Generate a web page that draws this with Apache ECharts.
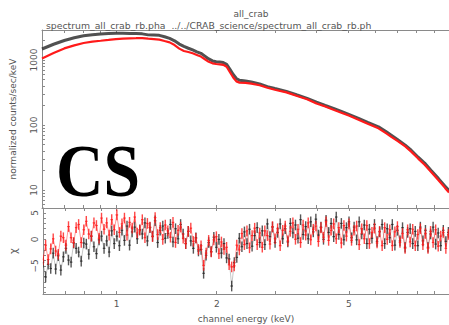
<!DOCTYPE html>
<html><head><meta charset="utf-8">
<script src="https://cdn.jsdelivr.net/npm/echarts@6/dist/echarts.min.js"></script>
<style>html,body{margin:0;padding:0;background:#fff}#c{width:449px;height:325px}</style>
</head><body><div id="c"></div>
<script>
// ---- spectrum (top panel), normalized counts/sec/keV ----
const specEnergy = [0.60,0.65,0.70,0.75,0.80,0.85,0.90,0.95,1.00,1.05,1.10,1.15,1.20,1.25,1.30,1.35,1.40,1.45,1.50,1.55,1.60,1.65,1.70,1.75,1.80,1.85,1.90,1.95,2.00,2.05,2.10,2.15,2.20,2.25,2.30,2.35,2.45,2.55,2.70,2.85,3.00,3.25,3.50,3.75,4.00,4.25,4.50,4.75,5.00,5.35,5.70,6.14,6.50,6.71,7.00,7.39,7.70,8.08,8.45,8.84,9.30,9.73,10.0];
const specBlack = [1480,1750,2000,2200,2370,2460,2520,2560,2580,2590,2570,2560,2530,2440,2420,2400,2280,2150,1980,1760,1620,1520,1430,1340,1270,1150,1040,970,940,930,915,860,720,600,520,490,475,460,430,390,365,330,290,258,225,200,180,162,146,127,110,94,78,70,60,49,41,32,26,20,15,11.5,9.8];
const specRed = [1060,1280,1510,1680,1830,1920,1980,2040,2100,2140,2160,2170,2180,2130,2100,2060,1960,1870,1700,1500,1380,1330,1270,1200,1130,1030,940,890,870,860,845,790,650,540,470,450,445,435,410,375,350,318,280,250,215,193,172,155,140,121,105,89,74,66,57,47,39,30.5,24.5,19,14.2,10.8,9.2];

// ---- residuals (bottom panel), chi ----
const resEnergy = [0.600,0.611,0.622,0.633,0.644,0.655,0.667,0.679,0.691,0.703,
0.716,0.729,0.742,0.755,0.768,0.782,0.796,0.810,0.824,0.839,
0.854,0.869,0.885,0.900,0.916,0.933,0.949,0.966,0.983,1.001,
1.019,1.037,1.055,1.074,1.093,1.113,1.133,1.153,1.173,1.194,
1.216,1.237,1.259,1.282,1.305,1.328,1.352,1.376,1.400,1.425,
1.451,1.477,1.503,1.530,1.557,1.585,1.613,1.642,1.671,1.701,
1.731,1.762,1.794,1.826,1.858,1.891,1.925,1.960,1.995,2.030,
2.066,2.103,2.141,2.179,2.218,2.258,2.298,2.339,2.381,2.423,
2.466,2.510,2.555,2.601,2.647,2.694,2.742,2.791,2.841,2.892,
2.943,2.996,3.049,3.104,3.159,3.215,3.273,3.331,3.390,3.451,
3.512,3.575,3.639,3.704,3.770,3.837,3.905,3.975,4.046,4.118,
4.191,4.266,4.342,4.419,4.498,4.578,4.660,4.743,4.827,4.913,
5.001,5.090,5.181,5.273,5.367,5.463,5.560,5.659,5.760,5.863,
5.967,6.074,6.182,6.292,6.404,6.518,6.634,6.752,6.873,6.995,
7.120,7.247,7.376,7.507,7.641,7.777,7.916,8.057,8.200,8.346,
8.495,8.646,8.800,8.957,9.117,9.279,9.444,9.613,9.784,9.958];
const resBlack = [-4.3,-7.1,-4.7,-5.5,-2.6,-5.6,-3.1,-5.8,-3.3,-1.7,
-3.9,-4.3,-0.7,-1.7,-2.4,-4.1,-0.7,-0.9,-2.8,0.6,
-1.4,-2.7,-0.1,0.6,-1.7,-0.3,-2.4,1.6,-0.8,0.6,
-1.2,1.7,-0.2,2.5,-1.1,1.4,2.3,0.1,1.8,1.0,
3.1,-0.3,2.2,0.6,3.5,-0.6,1.7,2.5,0.2,1.1,
2.8,-0.5,2.0,0.1,2.8,1.0,-0.8,1.5,-0.3,-1.7,
0.3,-2.2,-1.9,-6.4,-3.0,-0.6,-2.3,0.4,-1.5,0.0,
-2.6,-0.8,-3.5,-3.7,-8.8,-4.4,-3.4,0.2,-1.4,1.4,
-0.8,1.9,-1.3,0.7,2.2,-0.6,1.6,-1.0,2.9,0.5,
2.3,-0.6,1.3,2.9,0.1,2.0,-0.5,3.0,1.2,2.7,
0.2,3.7,0.9,2.4,0.1,3.3,1.4,3.8,0.8,2.3,
0.0,3.6,1.3,3.0,0.5,4.2,0.9,3.0,-0.1,2.2,
3.3,0.3,2.3,-0.1,3.3,1.0,2.7,-0.8,1.9,0.2,
2.8,-0.4,1.4,2.8,-0.8,2.0,0.3,2.8,-1.1,1.7,
-0.3,2.2,-1.5,1.3,2.0,-0.8,1.5,-1.2,2.3,-0.3,
1.7,-1.5,1.0,2.3,-0.9,1.2,-1.2,1.7,-0.4,1.3];
const resRed = [-3.9,-1.1,-3.8,-1.8,0.1,-2.2,-2.8,0.6,0.3,-1.1,
2.4,0.3,-0.6,2.2,2.8,-0.6,1.8,3.4,1.0,0.6,
3.1,2.6,0.2,4.0,1.9,3.1,0.8,3.7,1.8,4.6,
1.3,2.9,4.0,0.8,3.2,2.1,4.2,1.2,1.7,3.7,
0.3,3.0,2.3,0.5,4.1,0.9,2.2,0.0,2.7,1.6,
0.4,3.2,-0.6,1.7,2.3,0.2,-0.8,1.5,2.1,-0.4,
0.2,-1.9,-1.2,-4.9,-2.6,-0.2,-2.4,-0.1,0.5,-2.7,
-0.5,-1.9,-1.5,-4.8,-5.2,-5.0,-1.1,-2.0,1.1,-1.0,
1.6,-1.6,0.7,2.1,-1.0,1.2,-1.5,1.6,0.7,-0.9,
2.4,0.1,2.0,-1.2,1.7,2.5,-0.3,1.5,3.1,0.0,
1.9,-0.6,2.7,0.8,3.1,-0.1,1.9,2.5,-0.4,2.2,
0.4,3.3,-0.2,1.7,2.9,0.1,2.2,-0.7,2.6,0.6,
2.9,-0.2,1.7,2.5,-1.0,2.0,0.1,2.6,-0.8,1.3,
2.1,-0.7,1.5,-1.2,2.2,0.0,1.8,-1.2,1.4,2.4,
-0.6,1.1,-1.7,1.8,-0.5,1.9,-1.2,0.9,2.0,-1.0,
1.1,-1.7,1.5,-0.6,1.8,-1.3,0.6,1.3,-1.7,0.9];

// ---- ticks ----
const xTickLabels = [1, 2, 5];
const xTicks = [0.6,0.7,0.8,0.9,1,2,3,4,5,6,7,8,9,10];
const yTopLabels = [10, 100, 1000];
const yTopTicks = [6,7,8,9,10,20,30,40,50,60,70,80,90,100,200,300,400,500,600,700,800,900,1000,2000];
const yBotLabels = [-5, 0, 5];
const yBotTicks = [-10,-9,-8,-7,-6,-5,-4,-3,-2,-1,0,1,2,3,4,5];

const FONT = 'DejaVu Sans';
const TXT = '#555';
const AX = '#8a8a8a';

function binData(E, V) {
  return E.map((e, i) => {
    const lo = i > 0 ? Math.sqrt(E[i-1]*e) : e*e/Math.sqrt(e*E[i+1]);
    const hi = i < E.length-1 ? Math.sqrt(e*E[i+1]) : e*e/Math.sqrt(E[i-1]*e);
    return [e, V[i], lo, hi];
  });
}
function crossRenderer(color) {
  return function (params, api) {
    const e = api.value(0), v = api.value(1), lo = api.value(2), hi = api.value(3);
    const c = api.coord([e, v]);
    const t = api.coord([e, v + 1]);
    const b = api.coord([e, v - 1]);
    const l = api.coord([lo, v]);
    const r = api.coord([hi, v]);
    return { type: 'group', children: [
      { type: 'line', shape: { x1: l[0], y1: c[1], x2: r[0], y2: c[1] }, style: { stroke: color, lineWidth: 1.2 } },
      { type: 'line', shape: { x1: c[0], y1: t[1], x2: c[0], y2: b[1] }, style: { stroke: color, lineWidth: 1.4 } }
    ]};
  };
}
function xAx(grid, pos, showLabels) {
  return {
    type: 'log', logBase: 10, gridIndex: grid, position: pos, min: 0.6, max: 10,
    axisLine: { show: true, onZero: false, lineStyle: { color: AX, width: 1 } },
    axisTick: { show: true, inside: true, length: 3, customValues: xTicks, lineStyle: { color: AX } },
    axisLabel: { show: showLabels, customValues: xTickLabels, formatter: v => String(v), color: TXT, fontSize: 9, fontFamily: FONT, margin: 5 },
    splitLine: { show: false }, minorTick: { show: false },
    name: showLabels ? 'channel energy (keV)' : '', nameLocation: 'middle', nameGap: 20,
    nameTextStyle: { color: TXT, fontSize: 9, fontFamily: FONT }
  };
}

const chart = echarts.init(document.getElementById('c'), null, { renderer: 'svg' });
chart.setOption({
  animation: false,
  backgroundColor: '#fff',
  title: [
    { text: 'all_crab', left: 246, textAlign: 'center', top: 4, textStyle: { color: TXT, fontSize: 9, fontWeight: 'normal', fontFamily: FONT } },
    { text: 'spectrum_all_crab_rb.pha  ../../CRAB_science/spectrum_all_crab_rb.ph', left: 41, top: 16, textStyle: { color: TXT, fontSize: 9.3, fontWeight: 'normal', fontFamily: FONT } }
  ],
  grid: [
    { left: 42, top: 30, width: 409, height: 178 },
    { left: 42, top: 208, width: 409, height: 86 }
  ],
  xAxis: [ xAx(0, 'bottom', false), xAx(0, 'top', false), xAx(1, 'bottom', true), xAx(1, 'top', false) ],
  yAxis: [
    { type: 'log', logBase: 10, gridIndex: 0, min: 5.3, max: 2900,
      axisLine: { show: true, lineStyle: { color: AX } },
      axisTick: { show: true, inside: true, length: 3, customValues: yTopTicks, lineStyle: { color: AX } },
      axisLabel: { customValues: yTopLabels, formatter: v => String(v), rotate: 90, color: TXT, fontSize: 9, fontFamily: FONT, margin: 4 },
      splitLine: { show: false },
      name: 'normalized counts/sec/keV', nameLocation: 'middle', nameGap: 25, nameRotate: 90,
      nameTextStyle: { color: TXT, fontSize: 9, fontFamily: FONT } },
    { type: 'value', gridIndex: 1, min: -10.3, max: 5.9,
      axisLine: { show: true, lineStyle: { color: AX } },
      axisTick: { show: true, inside: true, length: 3, customValues: yBotTicks, lineStyle: { color: AX } },
      axisLabel: { customValues: yBotLabels, formatter: v => String(v).replace('-', '\u2212'), rotate: 90, color: TXT, fontSize: 9, fontFamily: FONT, margin: 4 },
      splitLine: { show: false },
      name: '\u03c7', nameLocation: 'middle', nameGap: 25, nameRotate: 90,
      nameTextStyle: { color: TXT, fontSize: 10, fontFamily: FONT } }
  ],
  graphic: [
    { type: 'text', left: 56, top: 135, z: 100, scaleX: 0.9,
      style: { text: 'CS', font: 'bold 73px "Liberation Serif"', fill: '#000' } }
  ],
  series: [
    { type: 'line', xAxisIndex: 0, yAxisIndex: 0, showSymbol: false, symbol: 'none',
      data: specEnergy.map((e, i) => [e, specBlack[i]]),
      lineStyle: { color: '#333', width: 3, opacity: 0.85 }, z: 2 },
    { type: 'line', xAxisIndex: 0, yAxisIndex: 0, showSymbol: false, symbol: 'none',
      data: specEnergy.map((e, i) => [e, specRed[i]]),
      lineStyle: { color: '#ff1a1a', width: 2.2 }, z: 3 },
    { type: 'line', xAxisIndex: 2, yAxisIndex: 1, showSymbol: false, symbol: 'none',
      data: resEnergy.map((e, i) => [e, resBlack[i]]),
      lineStyle: { color: '#333', width: 0.8, opacity: 0.35 }, z: 2 },
    { type: 'custom', xAxisIndex: 2, yAxisIndex: 1, clip: true,
      data: binData(resEnergy, resBlack), renderItem: crossRenderer('rgba(30,30,30,0.75)'), z: 2 },
    { type: 'line', xAxisIndex: 2, yAxisIndex: 1, showSymbol: false, symbol: 'none',
      data: resEnergy.map((e, i) => [e, resRed[i]]),
      lineStyle: { color: '#ff2020', width: 0.9, opacity: 0.5 }, z: 3 },
    { type: 'custom', xAxisIndex: 2, yAxisIndex: 1, clip: true,
      data: binData(resEnergy, resRed), renderItem: crossRenderer('rgba(255,25,25,0.8)'), z: 3 }
  ]
});
</script>
</body></html>
